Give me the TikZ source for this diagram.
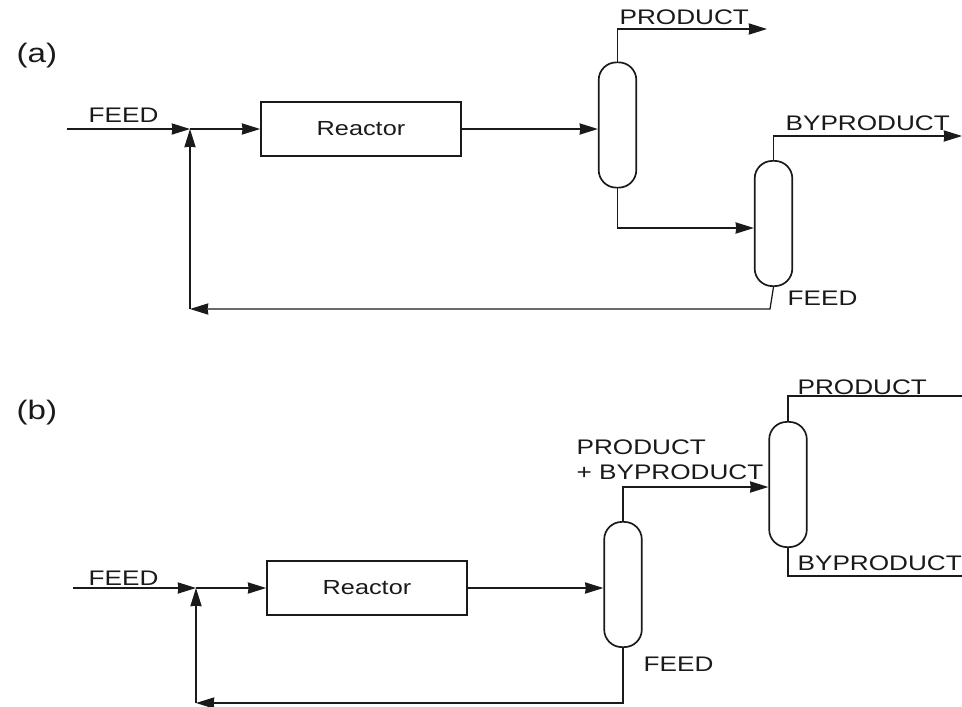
\documentclass[tikz,border=0pt]{standalone}
\usepackage{graphicx}
\usepackage{fontspec}
\setmainfont{Liberation Sans}
\usetikzlibrary{arrows.meta}
\definecolor{mInk}{HTML}{1A1A1A}
\newcommand{\wide}[1]{\scalebox{1.24}[1]{#1}}

\begin{document}
\begin{tikzpicture}[x=0.025cm, y=-0.025cm, >={Stealth[length=13pt, width=8pt, inset=0.5pt]},
    line width=0.9pt, mInk,
    every node/.style={font=\fontsize{15}{18}\selectfont},
    tag/.style={anchor=west, inner sep=0pt},
    casetag/.style={tag, font=\fontsize{19}{22}\selectfont},
    reactor/.style={draw, line width=1.2pt, font=\fontsize{14.5}{18}\selectfont, minimum width=5cm, minimum height=1.34cm, inner sep=0pt},
    column/.style={draw, line width=1.2pt, rounded corners=0.44cm, minimum width=0.94cm, minimum height=3.13cm, inner sep=0pt}]
  \useasboundingbox (0,0) rectangle (962,706);
  % scheme (a)
  \node[casetag] (labelA) at (16,56) {\wide{(a)}};
  \node[reactor] (reactorA) at (361,129) {\wide{Reactor}};
  \node[column] (colA) at (617.5,125) {};
  \node[column] (colB) at (773.5,223.5) {};
  \coordinate (inA) at (67,129);
  \coordinate (mixA) at (190,129);
  \coordinate (cornerA) at (190,309);
  \coordinate (bendA) at (617.5,29);
  \coordinate (outA) at (767,29);
  \coordinate (bendB) at (773.5,136);
  \coordinate (outB) at (962,136);
  \coordinate (bendC) at (617.5,228);
  \coordinate (bendD) at (770,309);
  \node[tag] (feedA) at (88,115) {\wide{FEED}};
  \node[tag] (prodA) at (619,17) {\wide{PRODUCT}};
  \node[tag] (byprodA) at (785,123) {\wide{BYPRODUCT}};
  \node[tag] (recycleA) at (787,298) {\wide{FEED}};
  \draw[->] (inA) -- (mixA);
  \draw[->] (mixA) -- (reactorA.west);
  \draw[->] (reactorA.east) -- (colA.west |- reactorA.east);
  \draw[->] (colA.north) -- (bendA) -- (outA);
  \draw[->] (colA.south) -- (bendC) -- (colB.west |- bendC);
  \draw[->] (colB.north) -- (bendB) -- (outB);
  \draw[->] (colB.south) -- (bendD) -- (cornerA);
  \draw[->] (cornerA) -- (mixA);
  % scheme (b)
  \node[casetag] (labelB) at (16,413) {\wide{(b)}};
  \node[reactor] (reactorB) at (367,588) {\wide{Reactor}};
  \node[column] (colC) at (623,584.5) {};
  \node[column] (colD) at (788,484.5) {};
  \coordinate (inB) at (73,588);
  \coordinate (mixB) at (196,588);
  \coordinate (cornerB) at (196,703);
  \coordinate (bendE) at (623,487);
  \coordinate (bendF) at (623,703);
  \coordinate (bendG) at (788,396);
  \coordinate (outG) at (962,396);
  \coordinate (bendH) at (788,576);
  \coordinate (outH) at (962,576);
  \node[tag] (feedB) at (88,578) {\wide{FEED}};
  \node[tag] (mixedB) at (576,447) {\wide{PRODUCT}};
  \node[tag] (plusB) at (576,472) {\wide{+ BYPRODUCT}};
  \node[tag] (prodB) at (797,387) {\wide{PRODUCT}};
  \node[tag] (byprodB) at (797,563) {\wide{BYPRODUCT}};
  \node[tag] (recycleB) at (643,664) {\wide{FEED}};
  \draw[->] (inB) -- (mixB);
  \draw[->] (mixB) -- (reactorB.west);
  \draw[->] (reactorB.east) -- (colC.west |- reactorB.east);
  \draw[->] (colC.north) -- (bendE) -- (colD.west |- bendE);
  \draw (colD.north) -- (bendG) -- (outG);
  \draw (colD.south) -- (bendH) -- (outH);
  \draw[->] (colC.south) -- (bendF) -- (cornerB);
  \draw[->] (cornerB) -- (mixB);
\end{tikzpicture}
\end{document}
